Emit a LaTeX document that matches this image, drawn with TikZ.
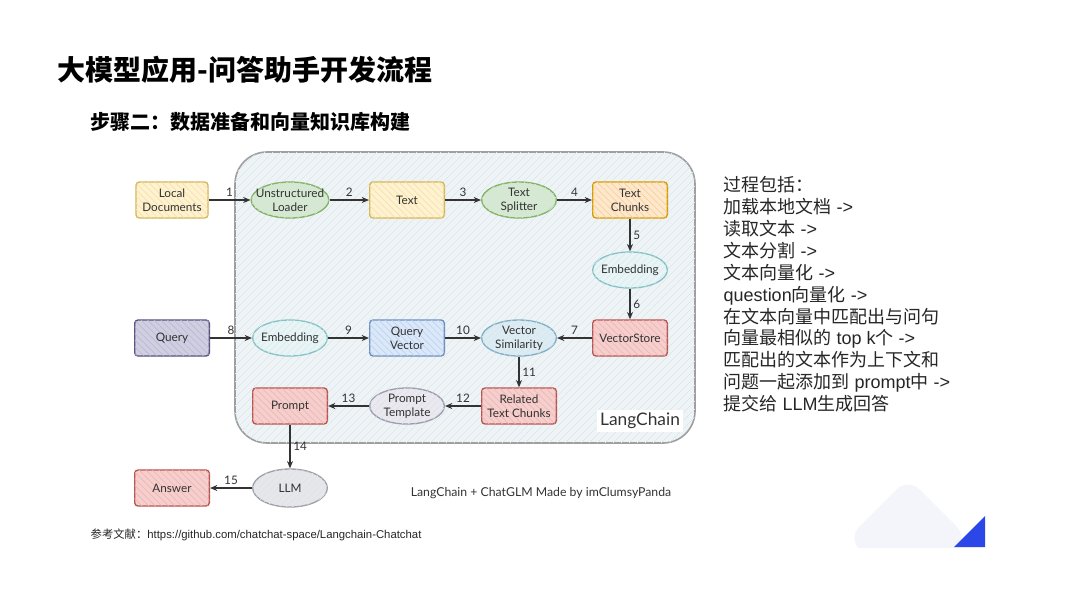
\documentclass[tikz,border=0pt]{standalone}
\usepackage{fontspec}
\setmainfont{Liberation Sans}
\newfontfamily\cjk{Noto Sans CJK SC}
\newfontfamily\sketch{Lato}
\usetikzlibrary{positioning, arrows.meta, shapes.geometric, patterns.meta}
\definecolor{yfill}{HTML}{FFF2CC}\definecolor{yline}{HTML}{D6B656}
\definecolor{gfill}{HTML}{D5E8D4}\definecolor{gline}{HTML}{82B366}
\definecolor{ofill}{HTML}{FFE6CC}\definecolor{oline}{HTML}{D79B00}
\definecolor{rfill}{HTML}{F8CECC}\definecolor{rline}{HTML}{B85450}
\definecolor{bfill}{HTML}{DAE8FC}\definecolor{bline}{HTML}{6C8EBF}
\definecolor{pfill}{HTML}{D0CEE2}\definecolor{pline}{HTML}{56517E}
\definecolor{tfill}{HTML}{E8F4F6}\definecolor{tline}{HTML}{86C2C4}
\definecolor{sfill}{HTML}{DDEBF3}\definecolor{sline}{HTML}{7FB0C8}
\definecolor{kfill}{HTML}{E9E9EF}\definecolor{kline}{HTML}{9C9CB0}
\definecolor{lfill}{HTML}{E6E7EB}\definecolor{lline}{HTML}{A0A2AA}
\definecolor{panel}{HTML}{EEF3F6}\definecolor{panelhatch}{HTML}{DCE5EB}
\definecolor{ink}{HTML}{333333}
\definecolor{accent}{HTML}{2B47E8}
\definecolor{decofill}{HTML}{F4F5FB}
\tikzset{
	rectnode/.style 2 args={draw=#2, fill=#1, line width=1pt, rounded corners=2.5pt,
		minimum width=56pt, minimum height=27pt, inner sep=1pt, align=center, text=ink,
		postaction={pattern={Lines[angle=-45, distance=3.5pt, line width=0.5pt]}, pattern color=#2!40}},
	ovalnode/.style 2 args={ellipse, draw=#2, fill=#1, line width=1pt,
		minimum width=56pt, minimum height=27pt, inner xsep=-5pt, inner ysep=0pt, align=center, text=ink,
		postaction={pattern={Lines[angle=45, distance=3.5pt, line width=0.5pt]}, pattern color=#2!30}},
	flow/.style={draw=ink, line width=1pt, -{Stealth[length=5.5pt, width=4.5pt]}},
	num/.style={font=\sketch\fontsize{8.8}{10}\selectfont, text=ink, inner sep=2pt}
}

\begin{document}
\begin{tikzpicture}[x=0.75pt, y=-0.75pt, font=\sketch\fontsize{8.8}{10.5}\selectfont]
\useasboundingbox (0,0) rectangle (1080,608);
\fill[white] (0,0) rectangle (1080,608);

\node[anchor=west, font=\cjk\bfseries\fontsize{21}{24}\selectfont] (title) at (53,70) {大模型应用-问答助手开发流程};
\node[anchor=west, font=\cjk\bfseries\fontsize{15}{18}\selectfont] (subtitle) at (86,122) {步骤二：数据准备和向量知识库构建};

\draw[draw=gray!75, line width=1.2pt, fill=panel, rounded corners=24pt,
	postaction={pattern={Lines[angle=45, distance=4pt, line width=0.4pt]}, pattern color=panelhatch}]
	(235,152) rectangle (695,443);
\node[fill=white, font=\sketch\fontsize{13}{15}\selectfont, text=ink, inner sep=2pt] (langchain) at (640,421) {LangChain};

\node[rectnode={yfill}{yline}, minimum width=54pt] (local) at (172,200) {Local\\Documents};
\node[ovalnode={gfill}{gline}] (loader) at (290,200) {Unstructured\\Loader};
\node[rectnode={yfill}{yline}] (text) at (407,200) {Text};
\node[ovalnode={gfill}{gline}] (splitter) at (519,200) {Text\\Splitter};
\node[rectnode={ofill}{oline}] (chunks) at (630,200) {Text\\Chunks};
\node[ovalnode={tfill}{tline}] (embedtop) at (630,270) {Embedding};
\node[rectnode={rfill}{rline}] (store) at (630,338) {VectorStore};

\node[rectnode={pfill}{pline}] (query) at (172,338) {Query};
\node[ovalnode={tfill}{tline}] (embedmid) at (290,338) {Embedding};
\node[rectnode={bfill}{bline}] (qvector) at (407,338) {Query\\Vector};
\node[ovalnode={sfill}{sline}] (similar) at (519,338) {Vector\\Similarity};

\node[rectnode={rfill}{rline}] (related) at (519,406) {Related\\Text Chunks};
\node[ovalnode={kfill}{kline}] (template) at (407,406) {Prompt\\Template};
\node[rectnode={rfill}{rline}] (prompt) at (290,406) {Prompt};

\node[ovalnode={lfill}{lline}, minimum height=28.5pt] (llm) at (290,488) {LLM};
\node[rectnode={rfill}{rline}] (answer) at (172,488) {Answer};

\draw[flow] (local) -- node[num, above] {1} (loader);
\draw[flow] (loader) -- node[num, above] {2} (text);
\draw[flow] (text) -- node[num, above] {3} (splitter);
\draw[flow] (splitter) -- node[num, above] {4} (chunks);
\draw[flow] (chunks) -- node[num, right] {5} (embedtop);
\draw[flow] (embedtop) -- node[num, right] {6} (store);
\draw[flow] (store) -- node[num, above] {7} (similar);
\draw[flow] (query) -- node[num, above] {8} (embedmid);
\draw[flow] (embedmid) -- node[num, above] {9} (qvector);
\draw[flow] (qvector) -- node[num, above] {10} (similar);
\draw[flow] (similar) -- node[num, right] {11} (related);
\draw[flow] (related) -- node[num, above] {12} (template);
\draw[flow] (template) -- node[num, above] {13} (prompt);
\draw[flow] (prompt) -- node[num, right] {14} (llm);
\draw[flow] (llm) -- node[num, above] {15} (answer);

\node[font=\sketch\fontsize{9.2}{11}\selectfont, text=ink] (credit) at (541,493) {LangChain + ChatGLM Made by imClumsyPanda};

\node[anchor=north west, align=left, text=black!85, font=\fontsize{13.5}{16.4}\selectfont] (steps) at (719,172) {%
{\cjk 过程包括：}\\
{\cjk 加载本地文档} ->\\
{\cjk 读取文本} ->\\
{\cjk 文本分割} ->\\
{\cjk 文本向量化} ->\\
question{\cjk 向量化} ->\\
{\cjk 在文本向量中匹配出与问句}\\
{\cjk 向量最相似的} top k{\cjk 个} ->\\
{\cjk 匹配出的文本作为上下文和}\\
{\cjk 问题一起添加到} prompt{\cjk 中} ->\\
{\cjk 提交给} LLM{\cjk 生成回答}};

\node[anchor=west, text=black!85, font=\fontsize{8.5}{10}\selectfont] (reference) at (86,535) {{\cjk 参考文献：}https://github.com/chatchat-space/Langchain-Chatchat};

\begin{scope}
\clip (840,470) rectangle (1000,547);
\fill[decofill, rounded corners=12pt] (908,478) -- (968,538) -- (908,598) -- (848,538) -- cycle;
\end{scope}
\fill[accent] (954,547) -- (985,516) -- (985,547) -- cycle;
\end{tikzpicture}
\end{document}
